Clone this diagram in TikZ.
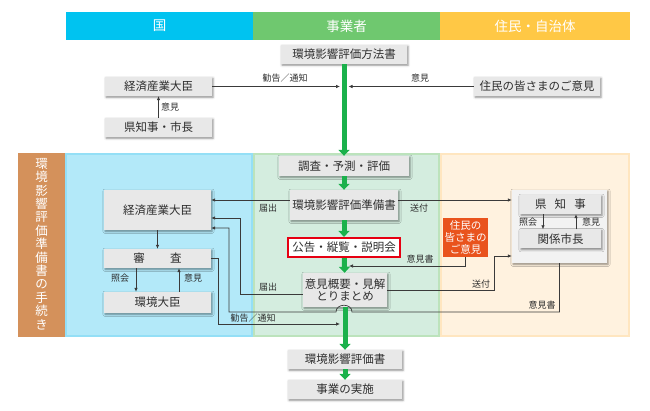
\documentclass[tikz,border=0pt]{standalone}
\usepackage{fontspec}
\setmainfont{Noto Sans CJK JP}
\usetikzlibrary{arrows.meta, positioning, shadows.blur}
\definecolor{KuniBlue}{HTML}{00C3F0}
\definecolor{JigyoGreen}{HTML}{6FC86F}
\definecolor{JuminYellow}{HTML}{FFC845}
\definecolor{KuniPale}{HTML}{B3E9F9}
\definecolor{JigyoPale}{HTML}{D4EDDF}
\definecolor{JuminPale}{HTML}{FFF2DF}
\definecolor{KuniEdge}{HTML}{94DFF6}
\definecolor{JigyoEdge}{HTML}{BCE3BC}
\definecolor{JuminEdge}{HTML}{FFE6C0}
\definecolor{StepBrown}{HTML}{D4915B}
\definecolor{FlowGreen}{HTML}{1AB14B}
\definecolor{BoxGray}{HTML}{E8E8E8}
\definecolor{GroupGray}{HTML}{F2F2F2}
\definecolor{LineInk}{HTML}{3A3A3A}
\definecolor{TextInk}{HTML}{2E2E2E}
\definecolor{NoticeRed}{HTML}{E60012}
\definecolor{VoiceOrange}{HTML}{E9531D}

\begin{document}
\begin{tikzpicture}[
    x=1pt, y=-1pt,
    font=\fontsize{11.5}{13}\selectfont,
    every node/.style={text=TextInk},
    band/.style={
      fill=#1,
      minimum height=28pt,
      inner sep=0pt,
      text=white,
      font=\fontsize{13.5}{15}\selectfont,
    },
    stepbox/.style={
      fill=BoxGray,
      inner sep=0pt,
      minimum height=19pt,
      align=center,
      blur shadow={shadow xshift=1pt, shadow yshift=-1.2pt, shadow blur steps=3, shadow opacity=45},
    },
    note/.style={font=\fontsize{9}{10}\selectfont, inner sep=1pt},
    link/.style={draw=LineInk, line width=0.7pt, -{Latex[length=4pt,width=3.5pt]}},
    flow/.style={draw=FlowGreen, line width=5pt, -{Triangle[width=11pt,length=6pt]}},
  ]
  \useasboundingbox (0,0) rectangle (650,411);

  \node[band=KuniBlue, minimum width=187pt] (hKuni) at (159.5,26) {国};
  \node[band=JigyoGreen, minimum width=187pt] (hJigyo) at (346.5,26) {事業者};
  \node[band=JuminYellow, minimum width=190pt] (hJumin) at (535,26) {住民・自治体};

  \fill[KuniPale] (65,153) rectangle (253,337);
  \fill[JigyoPale] (253,153) rectangle (440,337);
  \fill[JuminPale] (440,153) rectangle (630,337);
  \draw[KuniEdge, line width=2pt] (66,154) rectangle (252,336);
  \draw[JigyoEdge, line width=2pt] (254,154) rectangle (439,336);
  \draw[JuminEdge, line width=2pt] (441,154) rectangle (629,336);
  \fill[StepBrown] (18,153) rectangle (65,337);
  \node[text=white, align=center, inner sep=0pt, font=\fontsize{12.5}{13.4}\selectfont] (tetsuzuki) at (41.5,244)
    {環\\境\\影\\響\\評\\価\\準\\備\\書\\の\\手\\続\\き};

  \node[stepbox, minimum width=126pt] (houhou) at (344,54.5) {環境影響評価方法書};
  \node[stepbox, minimum width=107pt] (meti1) at (158.5,86.5) {経済産業大臣};
  \node[stepbox, minimum width=107pt] (chiji1) at (158.5,127.5) {県知事・市長};
  \node[stepbox, minimum width=126pt] (jumin1) at (537,86.5) {住民の皆さまのご意見};

  \node[stepbox, minimum width=130pt, minimum height=20pt] (chousa) at (344,166) {調査・予測・評価};
  \node[stepbox, minimum width=108pt, minimum height=30pt] (junbi) at (344,205) {環境影響評価準備書};
  \node[fill=white, draw=NoticeRed, line width=2.2pt, inner sep=0pt, minimum width=112pt, minimum height=19pt] (koukoku) at (344,247.5) {公告・縦覧・説明会};
  \node[stepbox, minimum width=84pt, minimum height=34pt, font=\fontsize{11.5}{12.5}\selectfont] (matome) at (345,290) {意見概要・見解\\とりまとめ};
  \node[stepbox, minimum width=114pt] (hyoukasho) at (345,359.5) {環境影響評価書};
  \node[stepbox, minimum width=114pt] (jisshi) at (345,389.5) {事業の実施};

  \node[stepbox, minimum width=107pt, minimum height=40pt] (meti2) at (157.5,210) {経済産業大臣};
  \node[stepbox, minimum width=107pt] (shinsa) at (157.5,258.5) {審\hspace{2.2em}査};
  \node[stepbox, minimum width=107pt, minimum height=21pt] (kankyo) at (157.5,302.5) {環境大臣};

  \node[stepbox, fill=GroupGray, minimum width=95pt, minimum height=73pt] (group) at (559.5,226.5) {};
  \node[stepbox, minimum width=81pt] (kenchiji) at (560.5,204.5) {県\hspace{0.7em}知\hspace{0.7em}事};
  \node[stepbox, minimum width=81pt] (shichou) at (560.5,239) {関係市長};
  \node[fill=VoiceOrange, text=white, align=center, inner sep=0pt, minimum width=45pt, minimum height=39pt,
    font=\fontsize{10.5}{12}\selectfont] (voice) at (465.5,237.5) {住民の\\皆さまの\\ご意見};

  \draw[flow] (houhou) -- (chousa);
  \draw[flow] (chousa) -- (junbi);
  \draw[flow] (junbi) -- (koukoku);
  \draw[flow] (koukoku) -- (matome);
  \draw[flow] (matome) -- (hyoukasho);
  \draw[flow] (hyoukasho) -- (jisshi);

  \coordinate (trunkL) at (340,86.5);
  \coordinate (trunkR) at (348.5,86.5);
  \coordinate (trunkIken) at (349,266);
  \coordinate (trunkKankoku) at (340,324);

  \draw[link] (meti1) -- (trunkL);
  \node[note] (kankoku1) at (285,78) {勧告／通知};
  \draw[link] (jumin1) -- (trunkR);
  \node[note] (iken1) at (420,78) {意見};
  \draw[link] (chiji1) -- (meti1);
  \node[note] (iken2) at (170,107) {意見};

  \draw[link] (meti2) -- (shinsa);
  \draw[link] (shinsa.south -| 136,0) -- (kankyo.north -| 136,0);
  \node[note] (shoukai1) at (120,278) {照会};
  \draw[link] (kankyo.north -| 179,0) -- (shinsa.south -| 179,0);
  \node[note] (iken3) at (193,278) {意見};

  \draw[link] (kenchiji.south -| 543,0) -- (shichou.north -| 543,0);
  \node[note] (shoukai2) at (528,222) {照会};
  \draw[link] (shichou.north -| 576,0) -- (kenchiji.south -| 576,0);
  \node[note] (iken4) at (591,222) {意見};

  \draw[link] (junbi.west |- 0,200) -- (meti2.east |- 0,200);
  \node[note] (todokede1) at (268,208) {届出};
  \draw[link] (junbi.east |- 0,200) -- (group.west |- 0,200);
  \node[note] (soufu1) at (419,208) {送付};

  \draw[link] (voice.south) |- (trunkIken);
  \node[note] (ikensho1) at (420,259) {意見書};

  \draw[link] (matome.east |- 0,290) -- (494,290) |- (group.west |- 0,256);
  \node[note] (soufu2) at (481,284) {送付};

  \draw[link] (matome.west |- 0,294) -- (240,294) |- (meti2.east |- 0,218);
  \node[note] (todokede2) at (268,287) {届出};

  \draw[link] (group.south) -- (559.5,312) -- (352,312)
    .. controls (352,303) and (336,303) .. (336,312)
    -- (229,312) |- (meti2.east |- 0,228);
  \node[note] (ikensho2) at (542,305) {意見書};

  \draw[link] (shinsa.east) -- (218,258.5) |- (trunkKankoku);
  \node[note] (kankoku2) at (253,318) {勧告／通知};
\end{tikzpicture}
\end{document}
